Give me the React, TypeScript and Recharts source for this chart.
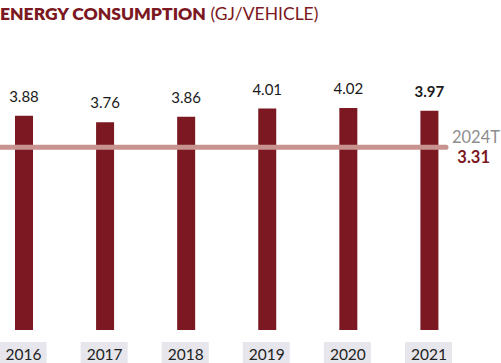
import { BarChart, Bar, XAxis, YAxis, ReferenceLine, LabelList } from 'recharts'

const years = ['2016', '2017', '2018', '2019', '2020', '2021']
const consumption = [3.88, 3.76, 3.86, 4.01, 4.02, 3.97]
const targetYear = '2024T'
const targetValue = 3.31

const data = years.map((year, i) => ({ year, value: consumption[i] }))

const DARK_RED = '#7b1822'
const TARGET_PINK = '#c8928e'
const FONT = 'Lato, "Open Sans", sans-serif'

function YearTick(props: any) {
  const { x, y, payload } = props
  return (
    <g>
      <rect x={x - 24} y={y + 4} width={47} height={24} fill="#e6e6ec" />
      <text x={x} y={y + 22} textAnchor="middle" fontSize={15.5} fill="#222" fontFamily={FONT}>
        {payload.value}
      </text>
    </g>
  )
}

function ValueLabel(props: any) {
  const { x, y, width, value, index } = props
  const last = index === years.length - 1
  return (
    <text
      x={x + width / 2}
      y={y - 14}
      textAnchor="middle"
      fontSize={15}
      fontWeight={last ? 700 : 400}
      fill="#1a1a1a"
      fontFamily={FONT}
    >
      {value.toFixed(2)}
    </text>
  )
}

function TargetLine(props: any) {
  const { y1 } = props
  return (
    <g>
      <line x1={-4} x2={446} y1={y1} y2={y1} stroke={TARGET_PINK} strokeWidth={5} strokeLinecap="round" />
      <text x={500} y={y1 - 4} textAnchor="end" fontSize={16.5} fill="#8e8e8e" fontFamily={FONT}>
        {targetYear}
      </text>
      <text x={490} y={y1 + 16} textAnchor="end" fontSize={16.5} fontWeight={700} fill={DARK_RED} fontFamily={FONT}>
        {targetValue.toFixed(2)}
      </text>
    </g>
  )
}

export default function App() {
  return (
    <div style={{ position: 'relative', width: 501, height: 363, background: '#fff', fontFamily: FONT }}>
      <style>{'body{margin:0}'}</style>
      <div style={{ position: 'absolute', left: 0, top: 3, fontSize: 17.5, color: DARK_RED, whiteSpace: 'nowrap' }}>
        <span style={{ fontWeight: 800 }}>ENERGY CONSUMPTION</span>
        <span style={{ fontWeight: 400 }}> (GJ/VEHICLE)</span>
      </div>
      <BarChart width={501} height={363} data={data} margin={{ top: 108, right: 31.5, bottom: 0, left: -17 }} barCategoryGap={0}>
        <XAxis dataKey="year" axisLine={false} tickLine={false} height={33} tick={<YearTick />} interval={0} />
        <YAxis hide domain={[0, 4.02]} />
        <Bar dataKey="value" fill={DARK_RED} barSize={18} isAnimationActive={false}>
          <LabelList dataKey="value" content={<ValueLabel />} />
        </Bar>
        <ReferenceLine y={targetValue} shape={<TargetLine />} ifOverflow="visible" />
      </BarChart>
    </div>
  )
}
